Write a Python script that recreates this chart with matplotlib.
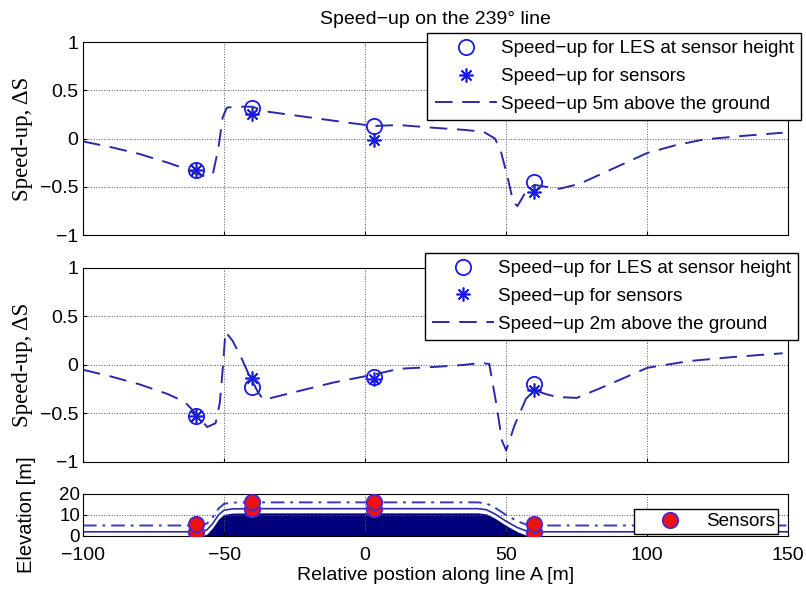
import matplotlib.pyplot as plt
import numpy as np

# sensor positions along the line
sensor_x = [-60, -40, 3, 60]

# top panel: 5 m above ground
les_top = [-0.33, 0.32, 0.13, -0.45]
obs_top = [-0.33, 0.25, -0.02, -0.55]
x_5m = [-100, -90, -80, -70, -64, -60, -57, -54, -52, -50.5, -49, -46, -40, -35, -25, -15, -5, 3,
        12, 25, 35, 42, 46, 48, 50.5, 52.5, 54, 57, 60, 64, 69, 76, 85, 100, 110, 120, 135, 148]
y_5m = [-0.03, -0.09, -0.16, -0.25, -0.31, -0.36, -0.39, -0.37, -0.1, 0.22, 0.32, 0.33, 0.33, 0.28,
        0.24, 0.2, 0.16, 0.13, 0.14, 0.11, 0.09, 0.07, 0.0, -0.12, -0.4, -0.66, -0.7, -0.55, -0.48,
        -0.5, -0.52, -0.47, -0.35, -0.15, -0.07, -0.01, 0.03, 0.06]

# middle panel: 2 m above ground
les_mid = [-0.53, -0.23, -0.12, -0.20]
obs_mid = [-0.53, -0.13, -0.15, -0.26]
x_2m = [-100, -90, -80, -70, -64, -60, -56, -53, -51.5, -50.5, -49.5, -47, -44, -41.5, -38, -36,
        -25, -11, 3, 12, 25, 35, 41, 44, 46.5, 48.5, 50, 53, 57, 60, 64, 68, 75, 85, 100, 115, 130, 148]
y_2m = [-0.05, -0.12, -0.2, -0.3, -0.38, -0.5, -0.64, -0.6, -0.39, -0.05, 0.34, 0.25, 0.08, -0.08,
        -0.28, -0.36, -0.28, -0.18, -0.1, -0.04, -0.02, 0.0, 0.02, 0.01, -0.4, -0.78, -0.88, -0.62,
        -0.35, -0.26, -0.3, -0.33, -0.34, -0.22, -0.03, 0.04, 0.08, 0.12]

# bottom panel: terrain profile and sensor heights
x_ter = [-100, -58, -56, -54, -52, -50, -47, -40, 0, 40, 43, 46, 50, 54, 57, 59, 150]
z_ter = [0, 0, 1, 4, 8, 10.3, 10.9, 11, 11, 11, 10.5, 8.5, 5, 2, 0.5, 0, 0]
sens_px = [-60, -60, -40, -40, 3, 3, 60, 60]
sens_z = [2, 5.5, 13, 16, 13, 16, 2, 5.5]

xticks = [-100, -50, 0, 50, 100, 150]

plt.rcParams['font.family'] = ['Liberation Sans', 'DejaVu Sans']
plt.rcParams['axes.unicode_minus'] = True

fig = plt.figure(figsize=(8.06, 5.92), dpi=100)
ax1 = fig.add_axes([0.103, 0.603, 0.875, 0.326])
ax2 = fig.add_axes([0.103, 0.2196, 0.875, 0.328])
ax3 = fig.add_axes([0.103, 0.0946, 0.875, 0.071])

mcol = '#1a1ae6'
lcol = '#2a2aa8'
fs = 14
lfs = 13.6
star = (8, 2, 0)


def style(ax):
    ax.set_xlim(-100, 150)
    ax.set_xticks(xticks)
    ax.grid(True, linestyle=':', color='0.35', linewidth=0.7)
    ax.tick_params(direction='in', labelsize=fs, length=3)
    for s in ax.spines.values():
        s.set_linewidth(0.8)


for ax, les, obs, xs, ys, lab, loc in [
        (ax1, les_top, obs_top, x_5m, y_5m, 'Speed\u2212up 5m above the ground', (1.018, 1.047)),
        (ax2, les_mid, obs_mid, x_2m, y_2m, 'Speed\u2212up 2m above the ground', (1.014, 1.077))]:
    style(ax)
    ax.plot(sensor_x, les, 'o', mfc='none', mec=mcol, ms=11, mew=1.3,
            label='Speed\u2212up for LES at sensor height')
    ax.plot(sensor_x, obs, marker=star, ls='none', color=mcol, ms=10, mew=1.2,
            label='Speed\u2212up for sensors')
    ax.plot(xs, ys, '--', color=lcol, lw=1.4, dashes=(9, 5), label=lab)
    ax.set_ylim(-1, 1)
    ax.set_yticks([-1, -0.5, 0, 0.5, 1])
    ax.set_yticklabels(['\u22121', '\u22120.5', '0', '0.5', '1'])
    ax.set_xticklabels([])
    ax.set_ylabel('Speed-up, \u0394S', family=['Liberation Serif'], fontsize=16.5, labelpad=5)
    ax.legend(loc='upper right', bbox_to_anchor=loc, fontsize=lfs, frameon=True, fancybox=False,
              edgecolor='black', framealpha=1, borderpad=0.38, labelspacing=0.56,
              handlelength=3.3, handletextpad=0.2, borderaxespad=0)

ax1.set_title('Speed\u2212up on the 239\u00b0 line', fontsize=fs, pad=13)

style(ax3)
ax3.tick_params(axis='x', pad=8)
ax3.tick_params(axis='y', labelsize=13.5, pad=2)
xt = np.array(x_ter)
zt = np.array(z_ter)
ax3.fill_between(xt, 0, zt, color='#00007a', lw=0)
ax3.plot(xt, zt + 1, '-', color='white', lw=1.5)
ax3.plot(xt, zt + 2, '-', color='#2a2ab0', lw=1.2)
ax3.plot(xt, zt + 5, '-.', color='#3a3ac0', lw=1.4, dashes=(7, 3, 1.5, 3))
ax3.plot(sens_px, sens_z, 'o', mfc='#ee1111', mec='#4a2ad0', ms=11, mew=1.4, label='Sensors', zorder=5)
ax3.set_ylim(0, 20)
ax3.set_yticks([0, 10, 20])
ax3.set_xticklabels(['\u2212100', '\u221250', '0', '50', '100', '150'])
ax3.set_ylabel('Elevation [m]', fontsize=14.5)
ax3.yaxis.set_label_coords(-0.067, 0.5)
ax3.set_xlabel('Relative postion along line A [m]', fontsize=fs, labelpad=2)
ax3.legend(loc='lower right', bbox_to_anchor=(0.986, 0.05), fontsize=lfs, frameon=True, fancybox=False,
           edgecolor='black', framealpha=1, borderpad=0.2, handlelength=3.4, handletextpad=0.2,
           borderaxespad=0)

fig.savefig('out.png', dpi=100)
